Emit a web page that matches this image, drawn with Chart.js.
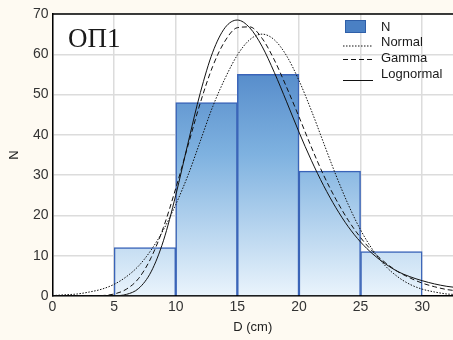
<!DOCTYPE html>
<html>
<head>
<meta charset="utf-8">
<script src="https://cdn.jsdelivr.net/npm/chart.js@4"></script>
<style>
  html, body { margin: 0; padding: 0; background: #fefaf2; }
  #wrap { width: 453px; height: 340px; }
</style>
</head>
<body>
<div id="wrap"><canvas id="chart" width="453" height="340"></canvas></div>
<script>
// гистограмма ОП1 + подобранные распределения
const binCenters = [7.5, 12.5, 17.5, 22.5, 27.5];
const counts = [12, 48, 55, 31, 11];

const xTicks = [0, 5, 10, 15, 20, 25, 30];
const yTicks = [0, 10, 20, 30, 40, 50, 60, 70];

const curveX = [0, 1, 2, 3, 4, 5, 6, 7, 8, 9, 10, 11, 12, 13, 14, 15, 16,
  17, 18, 19, 20, 21, 22, 23, 24, 25, 26, 27, 28, 29, 30, 31, 32, 32.5];
const normalY = [0.1, 0.3, 0.5, 1.0, 1.7, 2.9, 4.8, 7.5, 11.4, 16.4, 22.7, 30.0, 38.5, 47.0,
  54.0, 59.8, 63.6, 65.0, 63.6, 59.6, 53.5, 46.1, 38.0, 30.0, 22.7, 16.4, 11.4, 7.5, 4.8,
  2.9, 1.7, 1.0, 0.5, 0.4];
const gammaY = [0, 0, 0, 0, 0.1, 0.5, 1.7, 4.4, 9.5, 17.0, 26.7, 37.4, 48.0, 57.0, 63.3,
  66.6, 66.8, 64.0, 58.6, 51.8, 44.5, 37.0, 30.0, 24.0, 18.8, 14.5, 11.0, 8.3, 6.1, 4.5,
  3.2, 2.3, 1.6, 1.4];
const lognormalY = [0, 0, 0, 0, 0, 0.05, 0.4, 1.9, 6.0, 13.7, 25.0, 38.0, 50.5, 60.5, 66.6,
  68.5, 66.6, 62.0, 55.5, 48.2, 40.7, 33.7, 27.4, 21.9, 17.2, 13.4, 10.4, 8.0, 6.1, 4.8,
  3.8, 3.0, 2.4, 2.2];

const FONT = '"Liberation Sans", Arial, sans-serif';

function pts(ys) {
  return curveX.map((x, i) => ({ x: x, y: ys[i] }));
}

function barGradient(ctx) {
  const chart = ctx.chart;
  const area = chart.chartArea;
  if (!area) return '#6fa3d8';
  const g = chart.ctx.createLinearGradient(0, area.top, 0, area.bottom);
  g.addColorStop(0, '#3a72bc');
  g.addColorStop(0.5, '#7fb2e0');
  g.addColorStop(1, '#eaf4fc');
  return g;
}

// белый фон области графика
const plotBg = {
  id: 'plotBg',
  beforeDraw(chart) {
    const a = chart.chartArea;
    chart.ctx.save();
    chart.ctx.fillStyle = '#fff';
    chart.ctx.fillRect(a.left, a.top, a.right - a.left, a.bottom - a.top);
    chart.ctx.restore();
  }
};

// рамка сверху, подпись ОП1 и легенда внутри области графика
const extras = {
  id: 'extras',
  afterDraw(chart) {
    const c = chart.ctx;
    const a = chart.chartArea;
    c.save();
    c.strokeStyle = '#000';
    c.lineWidth = 1.5;
    c.beginPath();
    c.moveTo(a.left, a.top);
    c.lineTo(a.right, a.top);
    c.stroke();

    c.fillStyle = '#1a1a1a';
    c.font = '27px "Liberation Serif", "Times New Roman", serif';
    c.textBaseline = 'middle';
    c.textAlign = 'left';
    c.fillText('ОП1', 68, 40);

    // легенда
    const lx = 343, tx = 381;
    c.fillStyle = '#4a80c4';
    c.fillRect(345, 20, 21, 13);
    c.strokeStyle = '#2f5fa8';
    c.lineWidth = 1;
    c.strokeRect(345.5, 20.5, 20, 12);
    c.font = '13px ' + FONT;
    c.fillStyle = '#1a1a1a';
    c.fillText(chart.data.datasets[3].label, tx, 27);
    const rows = [[0, 46, 42.5], [1, 59.5, 58.5], [2, 80.5, 74]];
    rows.forEach(r => {
      const ds = chart.data.datasets[r[0]];
      c.strokeStyle = ds.borderColor;
      c.lineWidth = 1;
      c.setLineDash(ds.borderDash || []);
      c.beginPath();
      c.moveTo(lx, r[1]);
      c.lineTo(373, r[1]);
      c.stroke();
      c.setLineDash([]);
      c.fillText(ds.label, tx, r[2]);
    });
    c.restore();
  }
};

new Chart(document.getElementById('chart'), {
  type: 'bar',
  data: {
    datasets: [
      {
        type: 'line', label: 'Normal', data: pts(normalY),
        borderColor: '#111', borderWidth: 1, borderDash: [1.5, 1.5],
        pointRadius: 0, cubicInterpolationMode: 'monotone', order: 0
      },
      {
        type: 'line', label: 'Gamma', data: pts(gammaY),
        borderColor: '#111', borderWidth: 1, borderDash: [5, 3],
        pointRadius: 0, cubicInterpolationMode: 'monotone', order: 0
      },
      {
        type: 'line', label: 'Lognormal', data: pts(lognormalY),
        borderColor: '#111', borderWidth: 1,
        pointRadius: 0, cubicInterpolationMode: 'monotone', order: 0
      },
      {
        type: 'bar', label: 'N',
        data: binCenters.map((x, i) => ({ x: x, y: counts[i] })),
        backgroundColor: barGradient,
        borderColor: '#3a64b8', borderWidth: 1.5,
        barPercentage: 1, categoryPercentage: 1, order: 2
      }
    ]
  },
  options: {
    responsive: false,
    animation: false,
    layout: { padding: { left: 4, top: 14, right: 0, bottom: 0 } },
    plugins: { legend: { display: false }, tooltip: { enabled: false } },
    scales: {
      x: {
        type: 'linear', min: 0, max: 32.5, offset: false,
        afterBuildTicks: s => { s.ticks = xTicks.map(v => ({ value: v })); },
        afterFit: s => { s.height = 44; },
        grid: { color: '#dcdcdc', lineWidth: 1.5, drawTicks: false, offset: false },
        border: { color: '#000', width: 1.5 },
        ticks: { color: '#333', font: { family: FONT, size: 14 }, padding: 3, maxRotation: 0 },
        title: { display: true, text: 'D (cm)', color: '#222', font: { family: FONT, size: 13 }, padding: { top: 0, bottom: 5 } }
      },
      y: {
        min: 0, max: 70,
        afterBuildTicks: s => { s.ticks = yTicks.map(v => ({ value: v })); },
        afterFit: s => { s.width = 48.5; },
        grid: { color: '#dcdcdc', lineWidth: 1.5, drawTicks: false },
        border: { color: '#000', width: 1.5 },
        ticks: { color: '#333', font: { family: FONT, size: 14 }, padding: 4 },
        title: { display: true, text: 'N', color: '#222', font: { family: FONT, size: 13 }, padding: { top: 3, bottom: 0 } }
      }
    }
  },
  plugins: [plotBg, extras]
});
</script>
</body>
</html>
